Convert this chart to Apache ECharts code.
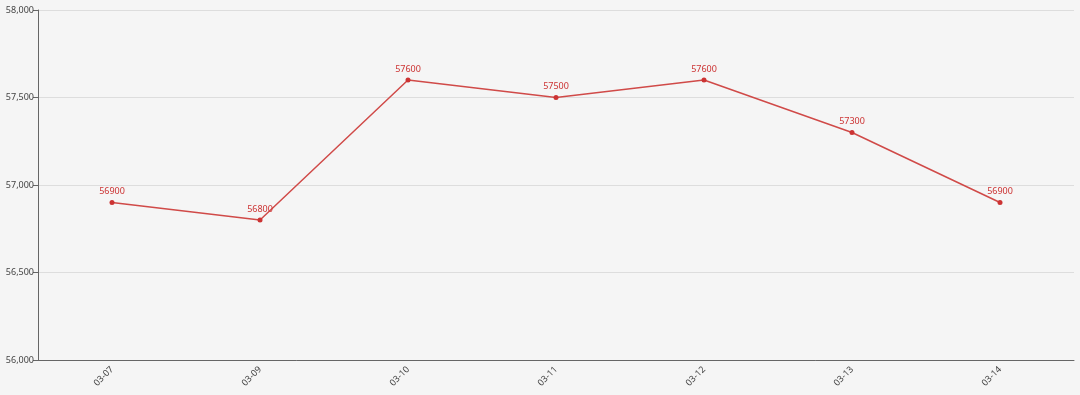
<!DOCTYPE html>
<html><head><meta charset="utf-8">
<script src="https://cdn.jsdelivr.net/npm/echarts@6/dist/echarts.min.js"></script>
<style>html,body{margin:0;padding:0;background:#f5f5f5;}#c{width:1080px;height:395px;}</style>
</head><body><div id="c"></div>
<script>
const categories = ['03-07','03-09','03-10','03-11','03-12','03-13','03-14'];
const values = [56900,56800,57600,57500,57600,57300,56900];
const yTicks = {min:56000, max:58000, interval:500};
const chart = echarts.init(document.getElementById('c'));
chart.setOption({
  backgroundColor:'#f5f5f5',
  animation:false,
  grid:{left:38,right:6,top:10,bottom:35},
  xAxis:{type:'category',data:categories,boundaryGap:true,
    axisLine:{lineStyle:{color:'#666'}},
    axisTick:{lineStyle:{color:'#666'}},
    axisLabel:{rotate:45,color:'#444',fontSize:9,fontFamily:'Noto Sans',margin:8}},
  yAxis:{type:'value',min:yTicks.min,max:yTicks.max,interval:yTicks.interval,
    axisLine:{show:true,lineStyle:{color:'#666'}},
    axisTick:{show:true,lineStyle:{color:'#666'}},
    splitLine:{lineStyle:{color:'#ddd'}},
    axisLabel:{color:'#444',fontSize:9,fontFamily:'Noto Sans',margin:4,
      formatter:v=>v.toLocaleString('en-US')}},
  series:[{type:'line',data:values,symbol:'circle',symbolSize:5,
    itemStyle:{color:'#cc3333'},lineStyle:{color:'#d04a48',width:1.5},
    label:{show:true,position:'top',color:'#cc3333',fontSize:9,fontFamily:'Noto Sans',distance:4}}]
});
</script></body></html>
